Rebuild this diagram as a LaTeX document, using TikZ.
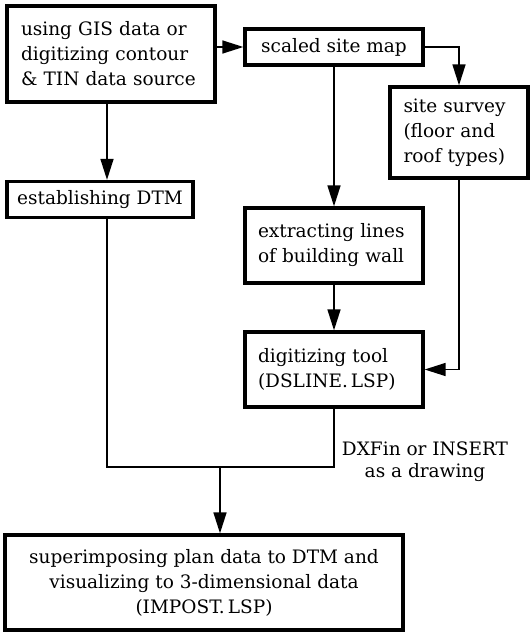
\documentclass[tikz,border=0pt]{standalone}
\usepackage{fontspec}
\setmainfont{DejaVu Serif}
\usetikzlibrary{arrows.meta}

\begin{document}
\begin{tikzpicture}[
  x=1pt,y=-1pt,
  >={Triangle[length=21pt,width=13pt]},
  font=\fontsize{18.5}{25}\selectfont,
  box/.style={draw,line width=3.3pt,inner xsep=13pt,inner ysep=0pt},
  link/.style={line width=1.5pt}
]
\useasboundingbox (0,0) rectangle (530,632);

% Process boxes.
\node[box,minimum width=208pt,minimum height=96pt,text width=180pt,align=left] (gis) at (111,54)
  {using GIS data or\\digitizing contour\\\& TIN data source};
\node[box,minimum width=178pt,minimum height=36pt,align=center] (map) at (334,47) {scaled site map};
\node[box,minimum width=138pt,minimum height=91pt,text width=111pt,align=left] (survey) at (459,132.5)
  {site survey\\(floor and\\roof types)};
\node[box,minimum width=186pt,minimum height=36pt,inner xsep=6pt] (dtm) at (100,199.5)
  {establishing DTM};
\node[box,minimum width=178pt,minimum height=75pt,text width=152pt,align=left] (walls) at (334,245.5)
  {extracting lines\\of building wall};
\node[box,minimum width=178pt,minimum height=75pt,text width=152pt,align=left] (tool) at (334,369.5)
  {digitizing tool\\(DSLINE.\,LSP)};
\node[box,minimum width=398pt,minimum height=95pt,align=center] (plan) at (204,582.5)
  {superimposing plan data to DTM and\\visualizing to 3-dimensional data\\(IMPOST.\,LSP)};
\node[align=center,font=\fontsize{18.5}{22}\selectfont] (dxf) at (425,462) {DXFin or INSERT\\as a drawing};

% Joints of the merging lines.
\coordinate (drop) at (107,467);
\coordinate (merge) at (220,467);

% Connectors.
\draw[link,->] (gis.east |- map.west) -- (map.west);
\draw[link,->] (map.east) -| (survey.north);
\draw[link,->] (map.south) -- (walls.north);
\draw[link,->] (walls.south) -- (tool.north);
\draw[link,->] (survey.south) |- (tool.east);
\draw[link,->] (gis.south -| drop) -- (dtm.north -| drop);
\draw[link] (dtm.south -| drop) -- (drop) -- (tool.south |- drop) -- (tool.south);
\draw[link,->] (merge) -- (plan.north -| merge);
\end{tikzpicture}
\end{document}
